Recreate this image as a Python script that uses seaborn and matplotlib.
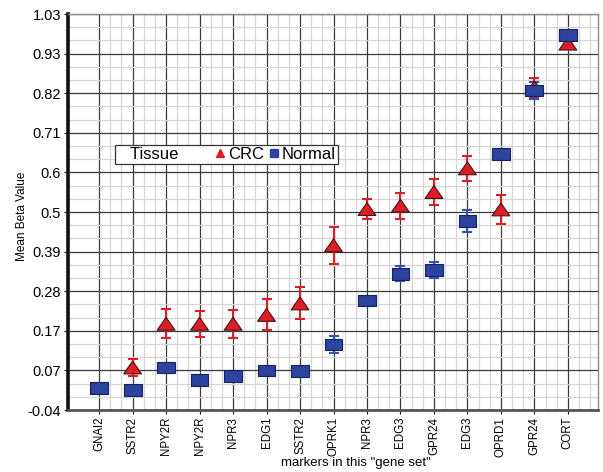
import numpy as np
import pandas as pd
import matplotlib
matplotlib.use("Agg")
import matplotlib.pyplot as plt
import seaborn as sns
from matplotlib.lines import Line2D
from matplotlib.ticker import FixedLocator

# ---------------- data ----------------
markers_names = ["GNAI2", "SSTR2", "NPY2R", "NPY2R", "NPR3", "EDG1", "SSTR2", "OPRK1",
                 "NPR3", "EDG3", "GPR24", "EDG3", "OPRD1", "GPR24", "CORT"]
crc_mean = [np.nan, 0.075, 0.193, 0.193, 0.193, 0.217, 0.248, 0.405,
            0.503, 0.512, 0.549, 0.613, 0.502, 0.832, 0.950]
crc_err = [np.nan, 0.023, 0.039, 0.035, 0.038, 0.042, 0.043, 0.050,
           0.028, 0.035, 0.036, 0.034, 0.040, 0.025, 0.0]
normal_mean = [0.019, 0.014, 0.075, 0.041, 0.052, 0.067, 0.066, 0.137,
               0.256, 0.328, 0.339, 0.471, 0.651, 0.823, 0.974]
normal_err = [0.0, 0.0, 0.0, 0.0, 0.0, 0.0, 0.0, 0.024,
              0.008, 0.020, 0.022, 0.030, 0.012, 0.024, 0.0]
ytick_labels = ["-0.04", "0.07", "0.17", "0.28", "0.39", "0.5", "0.6",
                "0.71", "0.82", "0.93", "1.03"]

pos = np.arange(len(markers_names))
df = pd.DataFrame({
    "pos": np.concatenate([pos, pos]),
    "value": np.concatenate([crc_mean, normal_mean]),
    "Tissue": ["CRC"] * len(pos) + ["Normal"] * len(pos),
})

RED = "#dc1f26"
RED_EDGE = "#4a1010"
BLUE = "#2c43a0"
BLUE_EDGE = "#16225e"
NARROW = ["Liberation Sans Narrow", "Liberation Sans", "DejaVu Sans"]
REG = ["Liberation Sans", "DejaVu Sans"]

tri = [(0, 0.72), (-1, -0.72), (1, -0.72), (0, 0.72)]
rect = [(-1, -0.66), (1, -0.66), (1, 0.66), (-1, 0.66), (-1, -0.66)]

fig = plt.figure(figsize=(6.03, 4.72), dpi=100)
ax = fig.add_axes([68 / 603, 1 - 410 / 472, 530 / 603, 396 / 472])

ax.set_xlim(-0.93, 14.9)
ax.set_ylim(-0.04, 1.03)
yt = np.linspace(-0.04, 1.03, 11)
ax.set_yticks(yt)
ax.set_yticklabels(ytick_labels, family=REG, fontsize=10.5)
ax.set_xticks(pos)
ax.set_xticklabels(markers_names, rotation=90, family=NARROW, fontsize=8.3)
xminor = [k + f for k in range(15) for f in (1 / 3, 2 / 3)]
ax.xaxis.set_minor_locator(FixedLocator(xminor))
ystep = (1.03 + 0.04) / 30
ax.yaxis.set_minor_locator(FixedLocator([-0.04 + i * ystep for i in range(31) if i % 3]))
ax.grid(which="major", color="#3a3a3a", lw=0.9, zorder=0)
ax.grid(which="minor", color="#d6d6d6", lw=0.9, zorder=0)
ax.set_axisbelow(True)
ax.tick_params(which="minor", length=0)
ax.tick_params(which="major", length=3, width=0.8, pad=2, color="#222")

ax.errorbar(pos, crc_mean, yerr=crc_err, fmt="none", ecolor=RED, elinewidth=1.5,
            capsize=3.6, capthick=1.5, zorder=2)
ax.errorbar(pos, normal_mean, yerr=normal_err, fmt="none", ecolor="#3550b5", elinewidth=1.5,
            capsize=3.6, capthick=1.5, zorder=2)
sns.scatterplot(data=df, x="pos", y="value", hue="Tissue", style="Tissue",
                palette={"CRC": RED, "Normal": BLUE},
                markers={"CRC": tri, "Normal": rect}, s=165,
                edgecolor="#222222", linewidth=0.8, legend=False, ax=ax, zorder=3)
coll = ax.collections[-1]
ec = [RED_EDGE if t == "CRC" else BLUE_EDGE for t in df.dropna()["Tissue"]]
coll.set_edgecolors(ec)

for s in ["top", "right"]:
    ax.spines[s].set_color("#8a8a8a")
    ax.spines[s].set_linewidth(1.0)
ax.spines["left"].set_color("#111")
ax.spines["left"].set_linewidth(2.6)
ax.spines["bottom"].set_color("#555")
ax.spines["bottom"].set_linewidth(2.0)

ax.set_xlabel('markers in this "gene set"', family=REG, fontsize=9.5)
ax.xaxis.set_label_coords(0.543, -0.118)
ax.set_ylabel("Mean Beta Value", family=NARROW, fontsize=8.5)
ax.yaxis.set_label_coords(-0.075, 0.49)

handles = [
    Line2D([], [], linestyle="none", marker=None),
    Line2D([], [], linestyle="none", marker="^", color=RED, markersize=6),
    Line2D([], [], linestyle="none", marker="s", color=BLUE, markersize=6),
]
leg = ax.legend(handles, ["Tissue       ", "CRC", "Normal"], ncol=3,
                loc="upper left", bbox_to_anchor=(115 / 603, 1 - 145 / 472),
                bbox_transform=fig.transFigure, borderaxespad=0,
                frameon=True, fancybox=False, framealpha=1, edgecolor="#333",
                prop={"family": REG, "size": 12}, handlelength=0.6,
                handletextpad=0.2, columnspacing=0.25, borderpad=0.12)
leg.get_frame().set_linewidth(0.9)

fig.savefig("out.png", dpi=100)
